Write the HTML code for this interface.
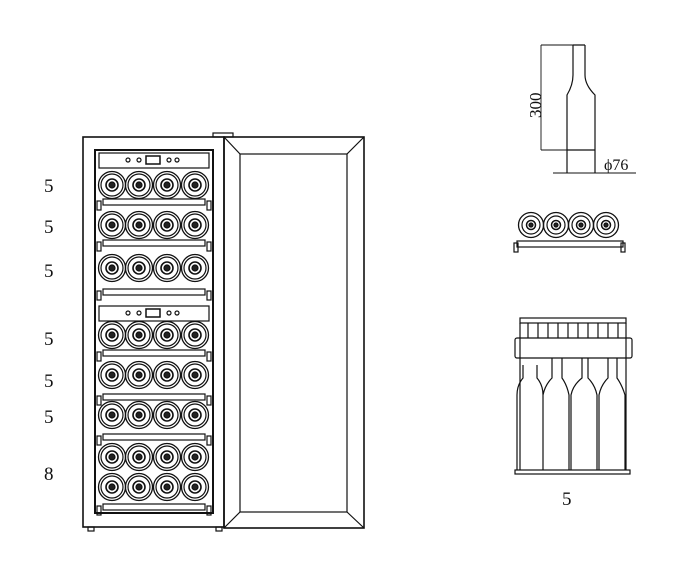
<!DOCTYPE html>
<html><head><meta charset="utf-8"><style>
html,body{margin:0;padding:0;background:#fff;}
svg{display:block}
text{font-family:"Liberation Serif",serif;fill:#111}
</style></head><body>
<svg id="s" width="685" height="577" viewBox="0 0 685 577" xmlns="http://www.w3.org/2000/svg" fill="none" stroke="#111" stroke-width="1.2">
<!-- labels -->
<g stroke="none" font-size="19">
<text x="44" y="192">5</text><text x="44" y="233">5</text><text x="44" y="277">5</text>
<text x="44" y="345">5</text><text x="44" y="387">5</text><text x="44" y="423">5</text>
<text x="44" y="480">8</text>
</g>
<!-- cabinet -->
<rect x="83" y="137" width="141" height="390" stroke-width="1.6"/>
<rect x="213" y="133" width="20" height="4"/>
<rect x="95" y="150" width="118" height="363" stroke-width="2"/>
<rect x="88" y="527" width="6" height="4"/><rect x="216" y="527" width="6" height="4"/>
<!-- door -->
<rect x="224" y="137" width="140" height="391" stroke-width="1.6"/>
<rect x="240" y="154" width="107" height="358"/>
<line x1="224" y1="137" x2="240" y2="154"/><line x1="364" y1="137" x2="347" y2="154"/>
<line x1="224" y1="528" x2="240" y2="512"/><line x1="364" y1="528" x2="347" y2="512"/>
<!-- panels -->
<rect x="99" y="153" width="110" height="15"/>
<rect x="99" y="306" width="110" height="15"/>
<g id="dyn"></g>
<!-- right bottle -->
<path d="M573 45 V75 Q573 85 567 95 V173 M585 45 V75 Q585 85 595 95 V173 M573 45 H585 M567 150 H595"/>
<line x1="541" y1="45" x2="573" y2="45" stroke-width="0.9"/>
<line x1="541" y1="45" x2="541" y2="150" stroke-width="0.9"/>
<line x1="541" y1="150" x2="567" y2="150" stroke-width="0.9"/>
<line x1="553" y1="173" x2="600" y2="173" stroke-width="0.9"/>
<line x1="600" y1="173" x2="636" y2="173" stroke-width="0.9"/>
<text x="0" y="0" font-size="17" stroke="none" transform="translate(541,118) rotate(-90)">300</text>
<text x="604" y="170" font-size="16" stroke="none">ϕ76</text>
<!-- shelf icon -->
<g id="shelf"></g>
<rect x="517" y="241" width="106" height="6"/>
<rect x="514" y="243" width="4" height="9"/><rect x="621" y="243" width="4" height="9"/>
<!-- bottom icon -->
<rect x="520" y="318" width="106" height="5"/>
<rect x="515" y="338" width="117" height="20" rx="2"/>
<path d="M520 323 V470 M626 323 V470 M528 323 V338 M538 323 V338 M548 323 V338 M558 323 V338 M568 323 V338 M578 323 V338 M588 323 V338 M598 323 V338 M608 323 V338 M618 323 V338"/>
<path d="M517 470 V395 Q517 385 523 378 V365 M543 470 V395 Q543 385 537 378 V365 M543 470 V395 Q545 385 552 378 V358 M569 470 V395 Q567 385 562 378 V358 M571 470 V395 Q573 385 582 378 V358 M597 470 V395 Q595 385 588 378 V358 M599 470 V395 Q601 385 608 378 V358 M625 470 V395 Q622 385 617 378 V358 M569 395 V470 M571 395 V470"/>
<rect x="515" y="470" width="115" height="4"/>
<text x="562" y="505" font-size="19" stroke="none">5</text>
</svg>
<script>
var ns="http://www.w3.org/2000/svg",d=document.getElementById('dyn'),sh=document.getElementById('shelf');
function el(p,t,a){var e=document.createElementNS(ns,t);for(var k in a)e.setAttribute(k,a[k]);p.appendChild(e);return e;}
var xs=[112,139,167,195];
[185,225,268,335,375,415,457,487].forEach(function(y){xs.forEach(function(x){
el(d,'circle',{cx:x,cy:y,r:13.5,'stroke-width':1.3});el(d,'circle',{cx:x,cy:y,r:11});
el(d,'circle',{cx:x,cy:y,r:6,'stroke-width':1.6});el(d,'circle',{cx:x,cy:y,r:3,fill:'#222'});});});
[202,243,292,353,397,437,507].forEach(function(y){
el(d,'rect',{x:103,y:y-3,width:102,height:6});el(d,'rect',{x:97,y:y-1,width:4,height:9});el(d,'rect',{x:207,y:y-1,width:4,height:9});});
[157,310].forEach(function(y){[128,139,169,177].forEach(function(x){el(d,'circle',{cx:x,cy:y+3,r:2});});
el(d,'rect',{x:146,y:y-1,width:14,height:8,'stroke-width':1.5});});
[531,556,581,606].forEach(function(x){el(sh,'circle',{cx:x,cy:225,r:12.5,'stroke-width':1.3});el(sh,'circle',{cx:x,cy:225,r:9});el(sh,'circle',{cx:x,cy:225,r:4.5,'stroke-width':1.5});el(sh,'circle',{cx:x,cy:225,r:2,fill:'#222'});});
</script>
</body></html>
